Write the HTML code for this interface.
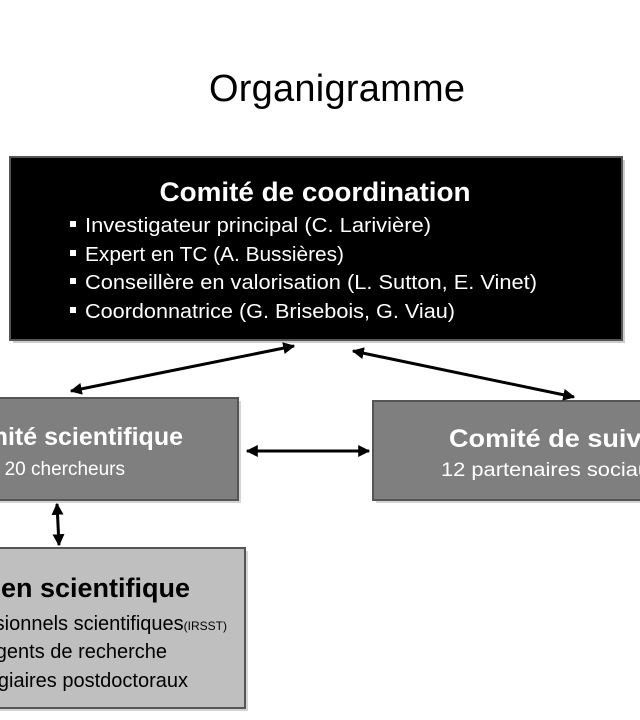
<!DOCTYPE html>
<html><head><meta charset="utf-8"><style>
html,body{margin:0;padding:0;background:#fff;width:640px;height:720px;overflow:hidden}
svg{display:block;font-family:"Liberation Sans",sans-serif}
</style></head><body>
<svg width="640" height="720" viewBox="0 0 640 720" xmlns="http://www.w3.org/2000/svg">
<defs>
<marker id="a" viewBox="0 0 10 10" refX="9" refY="5" markerWidth="4" markerHeight="4" orient="auto-start-reverse"><path d="M0,0 L10,5 L0,10 z" fill="#000"/></marker>
</defs>
<text x="337" y="101" font-size="38" text-anchor="middle" fill="#000" textLength="256">Organigramme</text>

<rect x="13" y="160" width="612" height="183" fill="#999" opacity="0.5"/>
<rect x="10" y="157" width="612" height="183" fill="#000" stroke="#555" stroke-width="2"/>
<text x="315" y="201" font-size="27" font-weight="bold" fill="#fff" text-anchor="middle" textLength="311" lengthAdjust="spacingAndGlyphs">Comité de coordination</text>
<g fill="#fff" font-size="20">
<rect x="70" y="221" width="6" height="6"/><text x="85" y="232" textLength="346" lengthAdjust="spacingAndGlyphs">Investigateur principal (C. Larivière)</text>
<rect x="70" y="250" width="6" height="6"/><text x="85" y="261" textLength="259" lengthAdjust="spacingAndGlyphs">Expert en TC (A. Bussières)</text>
<rect x="70" y="278" width="6" height="6"/><text x="85" y="289" textLength="452" lengthAdjust="spacingAndGlyphs">Conseillère en valorisation (L. Sutton, E. Vinet)</text>
<rect x="70" y="307" width="6" height="6"/><text x="85" y="318" textLength="370" lengthAdjust="spacingAndGlyphs">Coordonnatrice (G. Brisebois, G. Viau)</text>
</g>

<rect x="-10" y="401" width="251" height="102" fill="#aaa" opacity="0.5"/>
<rect x="-10" y="398" width="248" height="102" fill="#7f7f7f" stroke="#555" stroke-width="2"/>
<text x="183" y="445" font-size="25" font-weight="bold" fill="#fff" text-anchor="end">Comité scientifique</text>
<text x="125" y="475" font-size="19" fill="#fff" text-anchor="end">20 chercheurs</text>

<rect x="376" y="404" width="270" height="99" fill="#aaa" opacity="0.5"/>
<rect x="373" y="401" width="270" height="99" fill="#7f7f7f" stroke="#555" stroke-width="2"/>
<text x="449" y="447" font-size="25" font-weight="bold" fill="#fff" textLength="200" lengthAdjust="spacingAndGlyphs">Comité de suivi</text>
<text x="441" y="476" font-size="19" fill="#fff" textLength="220" lengthAdjust="spacingAndGlyphs">12 partenaires sociaux</text>

<rect x="-10" y="551" width="258" height="160" fill="#aaa" opacity="0.5"/>
<rect x="-10" y="548" width="255" height="160" fill="#bfbfbf" stroke="#555" stroke-width="2"/>
<text x="190" y="597" font-size="27" font-weight="bold" fill="#000" text-anchor="end">Soutien scientifique</text>
<text x="227" y="630" font-size="20" fill="#000" text-anchor="end">Professionnels scientifiques<tspan font-size="12">(IRSST)</tspan></text>
<text x="167" y="658" font-size="20" fill="#000" text-anchor="end">Agents de recherche</text>
<text x="188" y="687" font-size="20" fill="#000" text-anchor="end">Stagiaires postdoctoraux</text>

<g stroke="#000" stroke-width="3" fill="none">
<line x1="294" y1="346" x2="71" y2="391" marker-start="url(#a)" marker-end="url(#a)"/>
<line x1="353" y1="351" x2="574" y2="397" marker-start="url(#a)" marker-end="url(#a)"/>
<line x1="247" y1="451" x2="369" y2="451" marker-start="url(#a)" marker-end="url(#a)"/>
<line x1="57" y1="504" x2="59" y2="545" marker-start="url(#a)" marker-end="url(#a)"/>
</g>
</svg>
</body></html>
